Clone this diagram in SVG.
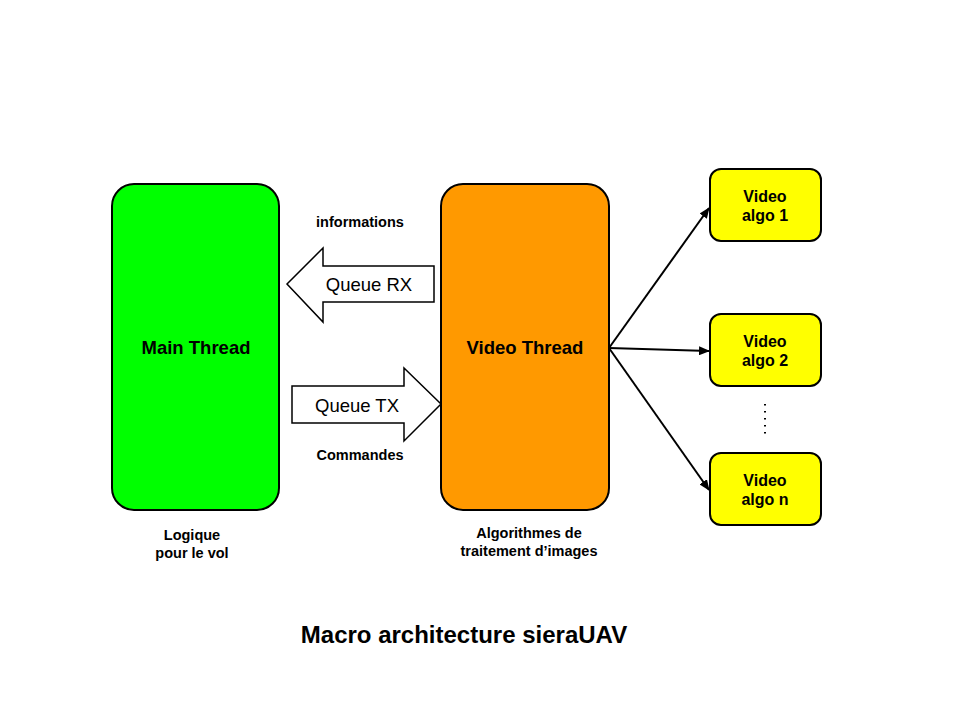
<svg xmlns="http://www.w3.org/2000/svg" width="960" height="720" viewBox="0 0 960 720">
<defs>
<marker id="ah" markerWidth="11" markerHeight="9" refX="10" refY="4.5" orient="auto" markerUnits="userSpaceOnUse">
<path d="M0,0 L11,4.5 L0,9 Z" fill="#000"/>
</marker>
<style>
text{font-family:"Liberation Sans",Arial,sans-serif;text-anchor:middle;fill:#000}
.b{font-weight:bold}
.big{font-size:18.5px;font-weight:bold}
.sm{font-size:14.5px;font-weight:bold}
.al{font-size:16px;font-weight:bold}
.q{font-size:18.5px}
.box{stroke:#000;stroke-width:2}
.conn{stroke:#000;stroke-width:2;fill:none}
</style>
</defs>
<rect width="960" height="720" fill="#fff"/>
<g id="main-thread">
<rect class="box" x="112" y="184" width="167" height="326" rx="22" fill="#00ff00"/>
<text class="big" x="196" y="354">Main Thread</text>
</g>
<g id="video-thread">
<rect class="box" x="441" y="184" width="168" height="326" rx="22" fill="#ff9900"/>
<text class="big" x="525" y="354">Video Thread</text>
</g>
<g id="algo1">
<rect class="box" x="710" y="169" width="111" height="72" rx="11" fill="#ffff00"/>
<text class="al" x="765" y="202">Video</text>
<text class="al" x="765" y="221">algo 1</text>
</g>
<g id="algo2">
<rect class="box" x="710" y="314" width="111" height="72" rx="11" fill="#ffff00"/>
<text class="al" x="765" y="347">Video</text>
<text class="al" x="765" y="366">algo 2</text>
</g>
<g id="algon">
<rect class="box" x="710" y="453" width="111" height="72" rx="11" fill="#ffff00"/>
<text class="al" x="765" y="486">Video</text>
<text class="al" x="765" y="505">algo n</text>
</g>
<g id="queue-rx">
<polygon points="287,284 323,248 323,266 434,266 434,302 323,302 323,322" fill="#fff" stroke="#000" stroke-width="1.5"/>
<text class="q" x="369" y="291">Queue RX</text>
</g>
<g id="queue-tx">
<polygon points="292,386 404,386 404,368 441,404 404,441 404,423 292,423" fill="#fff" stroke="#000" stroke-width="1.5"/>
<text class="q" x="357" y="412">Queue TX</text>
</g>
<g id="connectors">
<line class="conn" x1="609" y1="348" x2="709" y2="208" marker-end="url(#ah)"/>
<line class="conn" x1="609" y1="348" x2="709" y2="351" marker-end="url(#ah)"/>
<line class="conn" x1="609" y1="348" x2="709" y2="490" marker-end="url(#ah)"/>
</g>
<g id="labels">
<text class="sm" x="360" y="227">informations</text>
<text class="sm" x="360" y="460">Commandes</text>
<text class="sm" x="192" y="540">Logique</text>
<text class="sm" x="192" y="558">pour le vol</text>
<text class="sm" x="529" y="538">Algorithmes de</text>
<text class="sm" x="529" y="556">traitement d’images</text>
<line x1="765" y1="404" x2="765" y2="438" stroke="#000" stroke-width="2" stroke-dasharray="1.5,5.5"/>
<text class="b" x="464" y="643" font-size="24">Macro architecture sieraUAV</text>
</g>
</svg>
